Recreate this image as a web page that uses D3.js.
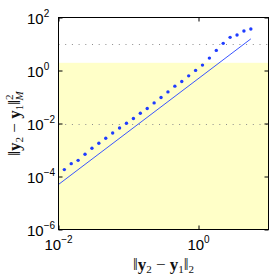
<!DOCTYPE html>
<html>
<head>
<meta charset="utf-8">
<script src="https://cdn.jsdelivr.net/npm/d3@7"></script>
<style>
body { margin: 0; background: #fff; }
</style>
</head>
<body>
<div id="chart"></div>
<script>
// data
const dotX = [0.01211, 0.01520, 0.01907, 0.02393, 0.03004, 0.03770, 0.04732, 0.05940, 0.07456, 0.09358,
              0.1175, 0.1475, 0.1851, 0.2323, 0.2916, 0.3660, 0.4594, 0.5766, 0.7237, 0.9084,
              1.140, 1.431, 1.796, 2.254, 2.829, 3.551, 4.457, 5.594]
const dotY = [1.82e-4, 3.06e-4, 4.07e-4, 6.87e-4, 1.16e-3, 1.79e-3, 2.77e-3, 4.40e-3, 6.79e-3, 1.02e-2,
              1.54e-2, 2.45e-2, 3.68e-2, 6.00e-2, 9.60e-2, 0.156, 0.257, 0.386, 0.629, 1.01,
              1.60, 2.94, 5.74, 10.6, 17.8, 21.8, 30.8, 36.7]
const lineX = [0.01, 5.594]
const lineY = [5e-5, 15.6]
const bandTop = 1.95
const thresholds = [10, 0.01]
const xTickExp = [-2, 0]
const yTickExp = [-6, -4, -2, 0, 2]

const width = 274, height = 277
const pLeft = 58.5, pRight = 268.5, pTop = 17.5, pBottom = 229.5

const svg = d3.select("#chart").append("svg")
    .attr("width", width)
    .attr("height", height)

const x = d3.scaleLog().domain([1e-2, 1e1]).range([pLeft, pRight])
const y = d3.scaleLog().domain([1e-6, 1e2]).range([pBottom, pTop])

//BACKGROUND BAND
svg.append("rect")
    .attr("x", pLeft).attr("y", y(bandTop))
    .attr("width", pRight - pLeft).attr("height", pBottom - y(bandTop))
    .attr("fill", "#ffffc8")

//THRESHOLD LINES
svg.append("g").selectAll("line")
    .data(thresholds)
    .enter().append("line")
    .attr("x1", pLeft).attr("x2", pRight)
    .attr("y1", d => Math.round(y(d)) + 0.5).attr("y2", d => Math.round(y(d)) + 0.5)
    .attr("stroke", "#8c8c8c")
    .attr("stroke-width", 1)
    .attr("stroke-dasharray", "1,5.7")

//LINE
svg.append("path")
    .datum(lineX.map((d, i) => [d, lineY[i]]))
    .attr("d", d3.line().x(d => x(d[0])).y(d => y(d[1])))
    .attr("fill", "none")
    .attr("stroke", "#3a55ff")
    .attr("stroke-width", 1)

//DOTS
svg.append("g").selectAll("circle")
    .data(dotX.map((d, i) => [d, dotY[i]]))
    .enter().append("circle")
    .attr("cx", d => x(d[0]))
    .attr("cy", d => y(d[1]))
    .attr("r", 1.7)
    .attr("fill", "#1f3cff")

//AXES (ticks inward)
function clean(g) {
    g.select(".domain").remove()
    g.selectAll(".tick line").attr("stroke", "#000")
}
const xVals = xTickExp.map(e => Math.pow(10, e))
const yVals = yTickExp.map(e => Math.pow(10, e))
svg.append("g").attr("transform", `translate(0,${pBottom})`)
    .call(d3.axisBottom(x).tickValues(xVals).tickSize(-4).tickFormat("")).call(clean)
svg.append("g").attr("transform", `translate(0,${pTop})`)
    .call(d3.axisTop(x).tickValues(xVals).tickSize(-4).tickFormat("")).call(clean)
svg.append("g").attr("transform", `translate(${pLeft},0)`)
    .call(d3.axisLeft(y).tickValues(yVals).tickSize(-4).tickFormat("")).call(clean)
svg.append("g").attr("transform", `translate(${pRight},0)`)
    .call(d3.axisRight(y).tickValues(yVals).tickSize(-4).tickFormat("")).call(clean)

//FRAME
svg.append("rect")
    .attr("x", pLeft).attr("y", pTop)
    .attr("width", pRight - pLeft).attr("height", pBottom - pTop)
    .attr("fill", "none").attr("stroke", "#000").attr("stroke-width", 1)

//TICK LABELS
const font = "'Liberation Sans', Arial, sans-serif"
function power(sel, e) {
    sel.append("tspan").text("10")
    sel.append("tspan").attr("dy", -7).attr("font-size", 10).text(e < 0 ? "\u2212" + (-e) : e)
}
svg.append("g").selectAll("text")
    .data(yTickExp)
    .enter().append("text")
    .attr("x", 27)
    .attr("y", d => y(Math.pow(10, d)) + 6.5)
    .attr("font-family", font).attr("font-size", 15)
    .each(function(d) { power(d3.select(this), d) })
svg.append("g").selectAll("text")
    .data(xTickExp)
    .enter().append("text")
    .attr("x", d => x(Math.pow(10, d)))
    .attr("y", 250)
    .attr("text-anchor", "middle")
    .attr("font-family", font).attr("font-size", 15)
    .each(function(d) { power(d3.select(this), d) })

//AXIS LABELS
const serif = "'Liberation Serif', 'Times New Roman', serif"
function norm(sel) {
    sel.append("tspan").attr("font-weight", 300).text("\u2016")
    sel.append("tspan").attr("font-weight", "bold").text("y")
    sel.append("tspan").attr("font-size", 11).attr("dy", 3).text("2")
    sel.append("tspan").attr("dy", -3).text(" \u2212 ")
    sel.append("tspan").attr("font-weight", "bold").text("y")
    sel.append("tspan").attr("font-size", 11).attr("dy", 3).text("1")
    sel.append("tspan").attr("dy", -3).text("\u2016")
}
const xl = svg.append("text")
    .attr("x", (pLeft + pRight) / 2).attr("y", 270)
    .attr("text-anchor", "middle")
    .attr("font-family", serif).attr("font-size", 17)
    .attr("fill", "#111")
    .call(norm)
xl.append("tspan").attr("font-size", 11).attr("dy", 3).text("2")

const yl = svg.append("text")
    .attr("transform", `translate(20,${(pTop + pBottom) / 2}) rotate(-90)`)
    .attr("text-anchor", "middle")
    .attr("font-family", serif).attr("font-size", 17)
    .attr("fill", "#111")
    .call(norm)
yl.append("tspan").attr("font-size", 11).attr("dy", -7).text("2")
yl.append("tspan").attr("font-size", 11).attr("font-style", "italic").attr("dx", -6).attr("dy", 10).text("M")
</script>
</body>
</html>
